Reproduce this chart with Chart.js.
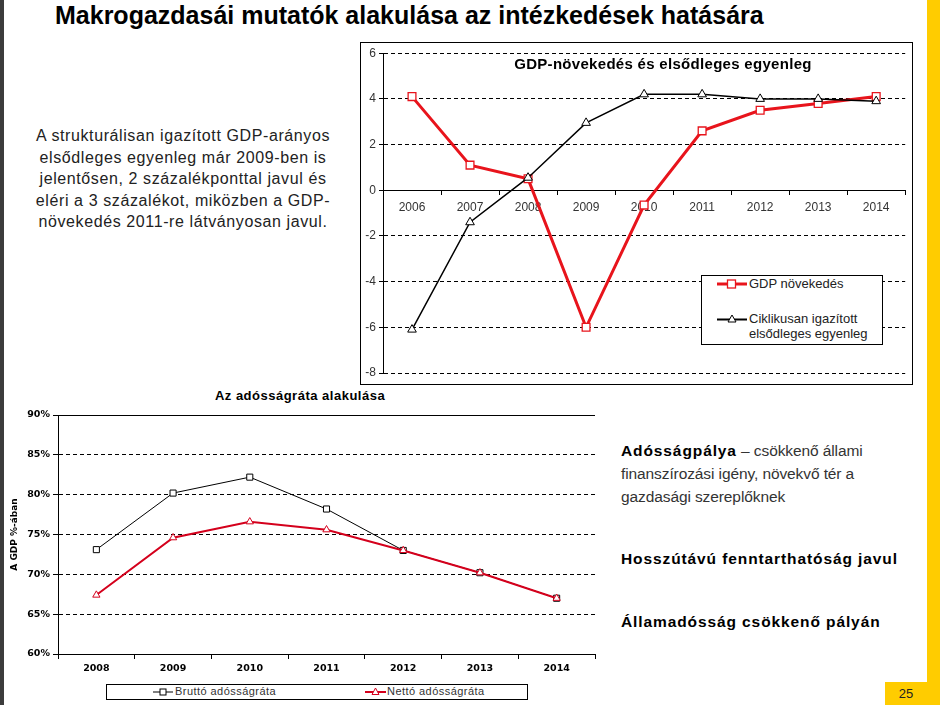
<!DOCTYPE html>
<html>
<head>
<meta charset="utf-8">
<script src="https://cdn.jsdelivr.net/npm/chart.js@4.4.0/dist/chart.umd.min.js"></script>
<style>
body { margin:0; width:940px; height:705px; position:relative; background:#fff; overflow:hidden; font-family:"Liberation Sans", Arial, sans-serif; }
.abs { position:absolute; }
#leftbar { left:0; top:0; width:4px; height:705px; background:#3c3c3c; }
#rightbar { left:927px; top:0; width:13px; height:705px; background:#ffcc00; }
#pagebox { left:885px; top:682px; width:55px; height:23px; background:#ffcc00; }
#pagenum { left:885px; top:682px; width:42px; height:23px; line-height:23px; text-align:center; font-size:13px; color:#222; }
#title { left:55px; top:1px; font-family:"Liberation Sans Narrow","Arial Narrow",sans-serif; font-weight:bold; font-size:25px; color:#000; white-space:nowrap; }
#lefttext { left:10px; top:125px; width:346px; text-align:center; font-size:16px; letter-spacing:0.6px; line-height:21.5px; color:#222; white-space:nowrap; }
#frame1 { left:360px; top:42px; width:551px; height:341px; border:1px solid #000; }
#c1wrap { left:361px; top:43px; width:551px; height:341px; }
#c1title { left:361px; top:55px; width:604px; text-align:center; font-size:15px; letter-spacing:0.3px; font-weight:bold; color:#000; }
#legend1 { left:701px; top:275px; width:180px; height:68px; border:1px solid #000; background:#fff; font-size:13px; color:#222; }
#c2title { left:150px; top:388px; width:300px; text-align:center; font-size:13px; font-weight:bold; letter-spacing:0.5px; color:#000; }
#c2wrap { left:4px; top:405px; width:600px; height:275px; }
#legend2 { left:106px; top:684px; width:420px; height:14px; border:1px solid #000; font-size:11px; letter-spacing:0.45px; color:#333; }
.rt { left:621px; font-size:15.5px; letter-spacing:-0.1px; color:#333; line-height:23px; white-space:nowrap; }
.rt b { color:#000; letter-spacing:0.9px; }
.lg { position:absolute; white-space:nowrap; }
</style>
</head>
<body>
<div id="leftbar" class="abs"></div>
<div id="rightbar" class="abs"></div>
<div id="pagebox" class="abs"></div>
<div id="pagenum" class="abs">25</div>
<div id="title" class="abs">Makrogazdasái mutatók alakulása az intézkedések hatására</div>

<div id="lefttext" class="abs">A strukturálisan igazított GDP-arányos<br>elsődleges egyenleg már 2009-ben is<br>jelentősen, 2 százalékponttal javul és<br>eléri a 3 százalékot, miközben a GDP-<br>növekedés 2011-re látványosan javul.</div>

<div id="frame1" class="abs"></div>
<div id="c1wrap" class="abs"><canvas id="chart1" width="551" height="341"></canvas></div>
<div id="c1title" class="abs">GDP-növekedés és elsődleges egyenleg</div>
<div id="legend1" class="abs">
  <svg class="lg" style="left:15px;top:1px" width="30" height="14"><line x1="0" y1="7" x2="30" y2="7" stroke="#e8141c" stroke-width="3"/><rect x="10.5" y="3" width="8" height="8" fill="#fff" stroke="#e8141c" stroke-width="1.3"/></svg>
  <div class="lg" style="left:47px;top:0px">GDP növekedés</div>
  <svg class="lg" style="left:15px;top:36px" width="30" height="14"><line x1="0" y1="7.5" x2="30" y2="7.5" stroke="#000" stroke-width="2"/><polygon points="15,3 19,10 11,10" fill="#fff" stroke="#000" stroke-width="1"/></svg>
  <div class="lg" style="left:47px;top:35px;line-height:15px">Ciklikusan igazított<br>elsődleges egyenleg</div>
</div>

<div id="c2title" class="abs">Az adósságráta alakulása</div>
<div id="c2wrap" class="abs"><canvas id="chart2" width="600" height="275"></canvas></div>
<div id="legend2" class="abs">
  <svg class="lg" style="left:46px;top:0px" width="20" height="14"><line x1="0" y1="7" x2="20" y2="7" stroke="#000" stroke-width="1"/><rect x="7" y="4" width="6" height="6" fill="#fff" stroke="#000" stroke-width="1"/></svg>
  <div class="lg" style="left:68px;top:0px">Bruttó adósságráta</div>
  <svg class="lg" style="left:258px;top:0px" width="21" height="14"><line x1="0" y1="7" x2="21" y2="7" stroke="#d4001c" stroke-width="2"/><polygon points="10.5,3 14,9.5 7,9.5" fill="#fff" stroke="#d4001c" stroke-width="1"/></svg>
  <div class="lg" style="left:280px;top:0px">Nettó adósságráta</div>
</div>

<div class="abs rt" style="top:439px"><b>Adósságpálya</b> – csökkenő állami<br>finanszírozási igény, növekvő tér a<br>gazdasági szereplőknek</div>
<div class="abs rt" style="top:547px"><b>Hosszútávú fenntarthatóság javul</b></div>
<div class="abs rt" style="top:610px"><b>Államadósság csökkenő pályán</b></div>

<script>
// adatok
var years1 = ['2006', '2007', '2008', '2009', '2010', '2011', '2012', '2013', '2014'];
var gdpGrowth = [4.1, 1.1, 0.5, -6.0, -0.65, 2.6, 3.5, 3.8, 4.1];
var primaryBalance = [-6.1, -1.4, 0.55, 2.95, 4.2, 4.2, 4.0, 4.0, 3.9];

var years2 = ['2008', '2009', '2010', '2011', '2012', '2013', '2014'];
var grossDebt = [73.1, 80.2, 82.2, 78.2, 73.0, 70.2, 67.0];
var netDebt = [67.4, 74.6, 76.6, 75.6, 73.0, 70.2, 67.0];

Chart.defaults.font.family = '"Liberation Sans", Arial, sans-serif';
Chart.defaults.animation = false;

var boldFont = '"DejaVu Sans", Verdana, sans-serif';

function drawChart1() {
    var ctx = document.getElementById('chart1').getContext('2d');
    new Chart(ctx, {
        type: 'line',
        data: {
            labels: years1,
            datasets: [
                {
                    label: 'Ciklikusan igazított elsődleges egyenleg',
                    data: primaryBalance,
                    borderColor: '#000',
                    borderWidth: 1.5,
                    pointStyle: 'triangle',
                    pointRadius: 5,
                    pointBorderWidth: 1,
                    pointBackgroundColor: '#fff',
                    pointBorderColor: '#000',
                    tension: 0,
                    order: 0
                },
                {
                    label: 'GDP növekedés',
                    data: gdpGrowth,
                    borderColor: '#e8141c',
                    borderWidth: 3,
                    pointStyle: 'rect',
                    pointRadius: 5.5,
                    pointBorderWidth: 1.3,
                    pointBackgroundColor: '#fff',
                    pointBorderColor: '#e8141c',
                    tension: 0,
                    order: 1
                }
            ]
        },
        options: {
            responsive: false,
            layout: { padding: { top: 9, bottom: 11, left: 0, right: 1 } },
            plugins: { legend: { display: false }, tooltip: { enabled: false } },
            scales: {
                x: {
                    position: { y: 0 },
                    offset: true,
                    grid: { offset: true, drawOnChartArea: false, drawTicks: true, tickLength: 4, color: '#000' },
                    border: { color: '#000', width: 1 },
                    ticks: { color: '#333', font: { size: 12 }, padding: 6, maxRotation: 0 }
                },
                y: {
                    min: -8,
                    max: 6,
                    ticks: { stepSize: 2, color: '#333', font: { size: 12 }, padding: 3 },
                    grid: { color: '#000', lineWidth: 1, tickLength: 4 },
                    border: { color: '#000', width: 1, dash: [4, 3] },
                    afterFit: function(scale) { scale.width = 22; }
                }
            }
        }
    });
}

var topLine = {
    id: 'topLine',
    afterDraw: function(chart) {
        var a = chart.chartArea, c = chart.ctx;
        c.save();
        c.strokeStyle = '#000';
        c.lineWidth = 1;
        c.beginPath();
        c.moveTo(a.left, a.top + 0.5);
        c.lineTo(a.right, a.top + 0.5);
        c.stroke();
        c.restore();
    }
};

function drawChart2() {
    var ctx = document.getElementById('chart2').getContext('2d');
    new Chart(ctx, {
        type: 'line',
        data: {
            labels: years2,
            datasets: [
                {
                    label: 'Nettó adósságráta',
                    data: netDebt,
                    borderColor: '#d4001c',
                    borderWidth: 2,
                    pointStyle: 'triangle',
                    pointRadius: 4.2,
                    pointBorderWidth: 1,
                    pointBackgroundColor: '#fff',
                    pointBorderColor: '#d4001c',
                    tension: 0,
                    order: 0
                },
                {
                    label: 'Bruttó adósságráta',
                    data: grossDebt,
                    borderColor: '#000',
                    borderWidth: 1,
                    pointStyle: 'rect',
                    pointRadius: 4.3,
                    pointBorderWidth: 1,
                    pointBackgroundColor: '#fff',
                    pointBorderColor: '#000',
                    tension: 0,
                    order: 1
                }
            ]
        },
        options: {
            responsive: false,
            layout: { padding: { top: 10, bottom: 0, left: 0, right: 9 } },
            plugins: { legend: { display: false }, tooltip: { enabled: false } },
            scales: {
                x: {
                    offset: true,
                    grid: { offset: true, drawOnChartArea: false, drawTicks: true, tickLength: 5, color: '#000' },
                    border: { color: '#000', width: 1 },
                    ticks: { color: '#000', font: { family: boldFont, size: 9.5, weight: 'bold' }, padding: 4, maxRotation: 0 },
                    afterFit: function(scale) { scale.height = 26; }
                },
                y: {
                    min: 60,
                    max: 90,
                    ticks: {
                        stepSize: 5, color: '#000', font: { family: boldFont, size: 9.5, weight: 'bold' }, padding: 3,
                        callback: function(v) { return v + '%'; }
                    },
                    grid: { color: '#000', lineWidth: 1, tickLength: 5 },
                    border: { color: '#000', width: 1, dash: [4, 3] },
                    title: { display: true, text: 'A GDP %-ában', color: '#000', font: { family: boldFont, size: 9, weight: 'bold' }, padding: { top: 5, bottom: 0 } },
                    afterFit: function(scale) { scale.width = 54; }
                }
            }
        },
        plugins: [topLine]
    });
}

drawChart1();
drawChart2();
</script>
</body>
</html>
